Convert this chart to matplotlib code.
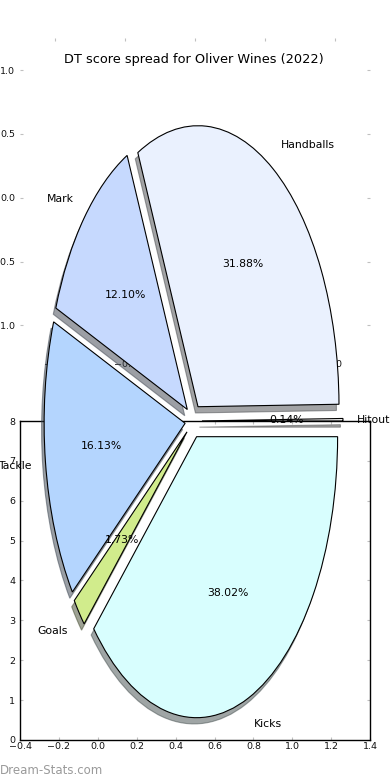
import matplotlib
matplotlib.use("Agg")
import matplotlib.pyplot as plt

labels = ['Hitout', 'Handballs', 'Mark', 'Tackle', 'Goals', 'Kicks']
values = [0.14, 31.88, 12.10, 16.13, 1.73, 38.02]
colors = ['#f4f4f4', '#eaf1fe', '#c6d9fe', '#b4d5fe', '#d1ec8c', '#d8fefe']
explode = [0.06] * len(values)

top_xticks = [-1.0, -0.5, 0.0, 0.5, 1.0]
top_yticks = [-1.0, -0.5, 0.0, 0.5, 1.0]
bot_xticks = [-0.4, -0.2, 0.0, 0.2, 0.4, 0.6, 0.8, 1.0, 1.2, 1.4]
bot_yticks = [0, 1, 2, 3, 4, 5, 6, 7, 8]

title = 'DT score spread for Oliver Wines (2022)'

fig = plt.figure(figsize=(3.9, 7.8), dpi=100)
fig.subplots_adjust(left=0.0513, right=0.949, bottom=0.0513, top=0.951, hspace=0.2)

tick_kw = dict(direction='in', length=2.5, width=0.8, color='#c0c0c0',
               labelsize=6.8, labelcolor='#111111')

# top axes (frameless, ticks only)
ax1 = fig.add_subplot(2, 1, 1)
ax1.set_xlim(-1.25, 1.25)
ax1.set_ylim(-1.25, 1.25)
ax1.set_xticks(top_xticks)
ax1.set_yticks(top_yticks)
ax1.set_frame_on(False)
ax1.tick_params(axis='both', which='both', top=True, bottom=True, left=True, right=True, **tick_kw)
ax1.tick_params(axis='x', pad=2)
ax1.tick_params(axis='y', pad=3.5)

# bottom axes (framed)
ax2 = fig.add_subplot(2, 1, 2)
ax2.set_xlim(-0.4, 1.4)
ax2.set_ylim(0, 8)
ax2.set_xticks(bot_xticks)
ax2.set_yticks(bot_yticks)
ax2.tick_params(axis='both', which='both', top=True, bottom=True, left=True, right=True, **tick_kw)
ax2.tick_params(axis='x', pad=1.5)
ax2.tick_params(axis='y', pad=3.5)
for s in ax2.spines.values():
    s.set_color('black')
    s.set_linewidth(1.0)

# pie axes (stretched, transparent)
cx, cy, rx, ry = 193.5, 421, 141, 281
W, H = 390.0, 780.0
axp = fig.add_axes([(cx - 1.25 * rx) / W, (H - cy - 1.25 * ry) / H, 2.5 * rx / W, 2.5 * ry / H])
axp.pie(values, labels=labels, colors=colors, explode=explode,
        autopct='%1.2f%%', pctdistance=0.6, labeldistance=1.1, startangle=0,
        shadow={'ox': -0.013, 'oy': -0.016},
        wedgeprops=dict(edgecolor='black', linewidth=0.8),
        textprops=dict(fontsize=7.8, color='black'), frame=False)
axp.set_aspect('auto')
axp.set_xlim(-1.25, 1.25)
axp.set_ylim(-1.25, 1.25)
axp.axis('off')
axp.patch.set_alpha(0)

fig.text(194 / W, 1 - 60 / H, title, ha='center', va='center', fontsize=9.3, color='black')
fig.text(0.0, 1 - 770 / H, 'Dream-Stats.com', ha='left', va='center', fontsize=8.5, color='#9a9a9a')

fig.savefig('out.png', dpi=100)
